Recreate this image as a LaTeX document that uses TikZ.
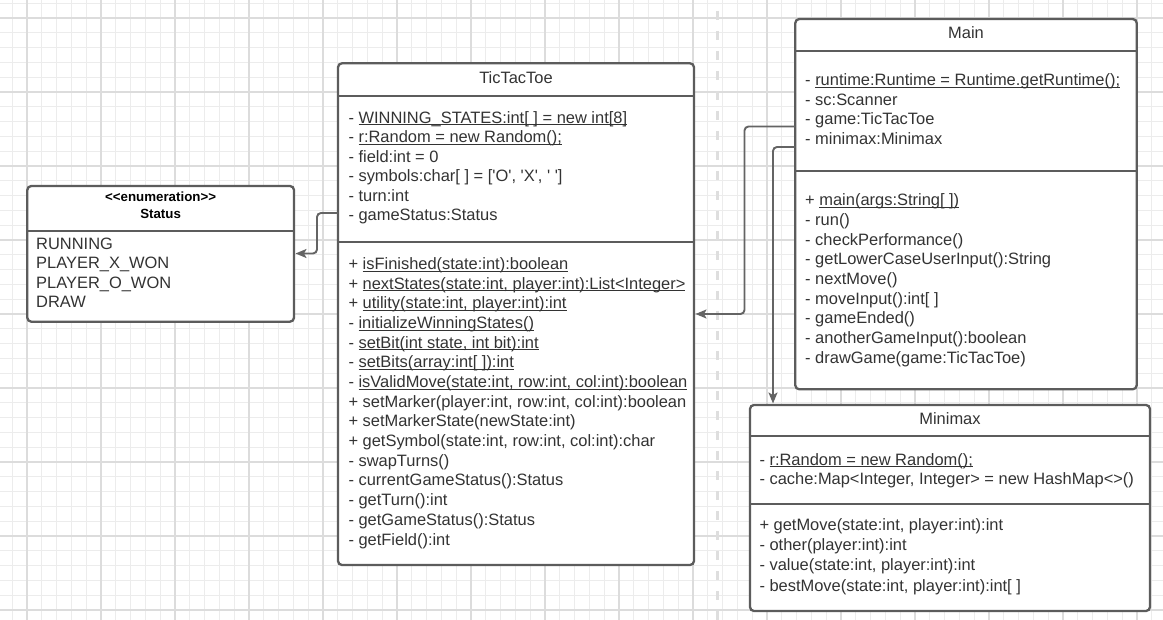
\documentclass[tikz,border=0pt]{standalone}
\usepackage{fontspec}
\newfontfamily\umlfont{Liberation Sans}
\usetikzlibrary{arrows.meta}

\definecolor{gridminor}{HTML}{ECECEC}
\definecolor{gridmajor}{HTML}{DCDCDC}
\definecolor{divider}{HTML}{DEDEDE}
\definecolor{boxline}{HTML}{5C5C5C}
\definecolor{wirecol}{HTML}{646464}
\definecolor{ink}{HTML}{333333}

% underline that sits just below the baseline (crossing descenders)
\newsavebox\undlbox
\newcommand\undl[1]{\sbox\undlbox{#1}\rlap{\rule[-2pt]{\wd\undlbox}{0.9pt}}\usebox\undlbox}

% one text line per node: #1 name prefix, #2 x, #3 first baseline, #4 line pitch, #5 lines
\newcommand\umllines[5]{%
  \foreach \umlrow [count=\k] in {#5} {
    \node[umltext] (#1-\k) at (#2, {#3+#4*(\k-1)}) {\umlrow};
  }%
}

\begin{document}
\begin{tikzpicture}[x=1pt, y=-1pt,
  umlbox/.style={draw=boxline, line width=2.3pt, fill=white, rounded corners=4pt, inner sep=0pt},
  umlsep/.style={draw=boxline, line width=2.3pt},
  umltext/.style={anchor=base west, inner sep=0pt, text=ink, font=\umlfont\fontsize{16.45}{19.7}\selectfont},
  umltitle/.style={umltext, anchor=base},
  enumhead/.style={anchor=base, inner sep=0pt, text=black, font=\umlfont\bfseries\fontsize{13.3}{15}\selectfont},
  wire/.style={draw=wirecol, line width=1.9pt, rounded corners=4pt, -{Stealth[length=11pt, width=9pt, inset=2.5pt]}}
]
\useasboundingbox (0,0) rectangle (1163,620);
\fill[white] (0,0) rectangle (1163,620);

% background grid
\begin{scope}
  \clip (0,0) rectangle (1163,620);
  \foreach \k in {-1,...,77} \draw[gridminor, line width=1pt] ({27+14.8*\k},0) -- ({27+14.8*\k},620);
  \foreach \k in {-1,...,41} \draw[gridminor, line width=1pt] (0,{18+14.8*\k}) -- (1163,{18+14.8*\k});
  \foreach \k in {0,...,15} \draw[gridmajor, line width=1.2pt] ({27+74*\k},0) -- ({27+74*\k},620);
  \foreach \k in {0,...,8} \draw[gridmajor, line width=1.2pt] (0,{18+74*\k}) -- (1163,{18+74*\k});
  % dashed page divider
  \draw[divider, line width=3pt, dash pattern=on 9pt off 11pt] (717,-9) -- (717,630);
\end{scope}

% ---------- Status enumeration ----------
\node[umlbox, minimum width=266.7pt, minimum height=135.7pt] (status) at (160.65,253.85) {};
\draw[umlsep] (27.3,230.7) -- (294,230.7);
\node[enumhead] (status-stereo) at (160.6,201.7) {{<}{<}enumeration{>}{>}};
\node[enumhead] (status-name) at (160.6,218.3) {Status};
\umllines{status-lit}{36}{249.3}{19.47}{{RUNNING},{PLAYER\_X\_WON},{PLAYER\_O\_WON},{DRAW}}

% ---------- TicTacToe ----------
\node[umlbox, minimum width=356pt, minimum height=501.7pt] (ttt) at (516,314.15) {};
\draw[umlsep] (338,96) -- (694,96);
\draw[umlsep] (338,241.7) -- (694,241.7);
\node[umltitle] (ttt-name) at (516,83.3) {TicTacToe};
\umllines{ttt-att}{348.3}{123.3}{19.5}{%
  {- \undl{WINNING\_STATES:int[ ] = new int[8]}},
  {- \undl{r:Random = new Random();}},
  {- field:int = 0},
  {- symbols:char[ ] = [\textquotesingle O\textquotesingle, \textquotesingle X\textquotesingle, \textquotesingle\ \textquotesingle]},
  {- turn:int},
  {- gameStatus:Status}}
\umllines{ttt-op}{348.3}{269.5}{19.68}{%
  {+ \undl{isFinished(state:int):boolean}},
  {+ \undl{nextStates(state:int, player:int):List<Integer>}},
  {+ \undl{utility(state:int, player:int):int}},
  {- \undl{initializeWinningStates()}},
  {- \undl{setBit(int state, int bit):int}},
  {- \undl{setBits(array:int[ ]):int}},
  {- \undl{isValidMove(state:int, row:int, col:int):boolean}},
  {+ setMarker(player:int, row:int, col:int):boolean},
  {+ setMarkerState(newState:int)},
  {+ getSymbol(state:int, row:int, col:int):char},
  {- swapTurns()},
  {- currentGameStatus():Status},
  {- getTurn():int},
  {- getGameStatus():Status},
  {- getField():int}}

% ---------- Main ----------
\node[umlbox, minimum width=341.4pt, minimum height=370.3pt] (main) at (966,204.15) {};
\draw[umlsep] (795.3,51) -- (1136.7,51);
\draw[umlsep] (795.3,171.3) -- (1136.7,171.3);
\node[umltitle] (main-name) at (966,38.3) {Main};
\umllines{main-att}{805}{85.5}{19.7}{%
  {- \undl{runtime:Runtime = Runtime.getRuntime();}},
  {- sc:Scanner},
  {- game:TicTacToe},
  {- minimax:Minimax}}
\umllines{main-op}{805}{206}{19.65}{%
  {+ \undl{main(args:String[ ])}},
  {- run()},
  {- checkPerformance()},
  {- getLowerCaseUserInput():String},
  {- nextMove()},
  {- moveInput():int[ ]},
  {- gameEnded()},
  {- anotherGameInput():boolean},
  {- drawGame(game:TicTacToe)}}

% ---------- Minimax ----------
\node[umlbox, minimum width=400pt, minimum height=206pt] (minimax) at (950,508) {};
\draw[umlsep] (750,436) -- (1150,436);
\draw[umlsep] (750,504) -- (1150,504);
\node[umltitle] (minimax-name) at (950,424.3) {Minimax};
\umllines{minimax-att}{759.3}{465}{20}{%
  {- \undl{r:Random = new Random();}},
  {- cache:Map<Integer, Integer> = new HashMap<>()}}
\umllines{minimax-op}{759.3}{530.7}{20.1}{%
  {+ getMove(state:int, player:int):int},
  {- other(player:int):int},
  {- value(state:int, player:int):int},
  {- bestMove(state:int, player:int):int[ ]}}

% ---------- associations ----------
\coordinate (ttt-out) at (338,213);
\coordinate (status-in) at (295.5,253.5);
\draw[wire] (ttt-out) -- ++(-21,0) |- (status-in);

\coordinate (main-out-a) at (795.3,126.5);
\coordinate (ttt-in) at (695.5,314);
\draw[wire] (main-out-a) -- ++(-50.8,0) |- (ttt-in);

\coordinate (main-out-b) at (795.3,147);
\coordinate (minimax-in) at (773,403.5);
\draw[wire] (main-out-b) -| (minimax-in);
\end{tikzpicture}
\end{document}
